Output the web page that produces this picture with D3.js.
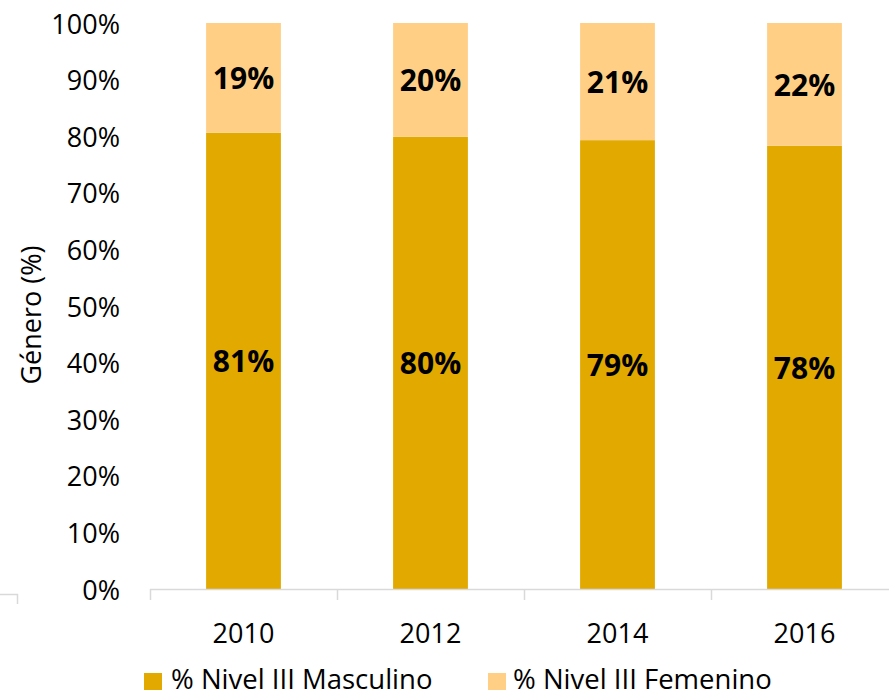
<!DOCTYPE html>
<html>
<head>
<meta charset="utf-8">
<script src="https://cdn.jsdelivr.net/npm/d3@7"></script>
<style>
  html, body { margin: 0; padding: 0; background: #fff; }
  svg { display: block; }
  text { font-family: "Open Sans", "Noto Sans", sans-serif; fill: #000; }
</style>
</head>
<body>
<svg id="chart" width="889" height="697"></svg>
<script>
const years = ["2010", "2012", "2014", "2016"];
const masculino = [80.6, 79.9, 79.3, 78.3];
const femenino = [19.4, 20.1, 20.7, 21.7];
const mascLabels = ["81%", "80%", "79%", "78%"];
const femLabels = ["19%", "20%", "21%", "22%"];
const yTicks = [0, 10, 20, 30, 40, 50, 60, 70, 80, 90, 100];
const seriesNames = ["% Nivel III Masculino", "% Nivel III Femenino"];
const colors = ["#E2A900", "#FFCF86"];

const svg = d3.select("#chart");
const plotLeft = 150, plotRight = 898, plotTop = 23, plotBottom = 589;

const x = d3.scaleBand().domain(years).range([plotLeft, plotRight]).paddingInner(0.6).paddingOuter(0.3);
const y = d3.scaleLinear().domain([0, 100]).range([plotBottom, plotTop]);
const step = x.step();

// bars
const g = svg.append("g");
years.forEach((yr, i) => {
  g.append("rect")
    .attr("x", x(yr)).attr("width", x.bandwidth())
    .attr("y", y(masculino[i])).attr("height", y(0) - y(masculino[i]))
    .attr("fill", colors[0]);
  g.append("rect")
    .attr("x", x(yr)).attr("width", x.bandwidth())
    .attr("y", y(masculino[i] + femenino[i])).attr("height", y(masculino[i]) - y(masculino[i] + femenino[i]))
    .attr("fill", colors[1]);
  g.append("text")
    .attr("x", x(yr) + x.bandwidth() / 2)
    .attr("y", y(masculino[i] / 2))
    .attr("text-anchor", "middle").attr("dominant-baseline", "central")
    .attr("font-size", 30).attr("font-weight", "bold")
    .text(mascLabels[i]);
  g.append("text")
    .attr("x", x(yr) + x.bandwidth() / 2)
    .attr("y", y(masculino[i] + femenino[i] / 2))
    .attr("text-anchor", "middle").attr("dominant-baseline", "central")
    .attr("font-size", 30).attr("font-weight", "bold")
    .text(femLabels[i]);
});

// x axis line and ticks
const axisColor = "#D9D9D9";
svg.append("line").attr("x1", plotLeft).attr("x2", 889).attr("y1", plotBottom + 0.5).attr("y2", plotBottom + 0.5)
  .attr("stroke", axisColor).attr("stroke-width", 1.5);
for (let i = 0; i <= years.length; i++) {
  const tx = Math.round(plotLeft + i * step) + 0.5;
  svg.append("line").attr("x1", tx).attr("x2", tx).attr("y1", plotBottom).attr("y2", plotBottom + 11)
    .attr("stroke", axisColor).attr("stroke-width", 1.5);
}
// small stray axis fragment at bottom-left
svg.append("path").attr("d", "M0,594.5 H17.5 V604").attr("fill", "none")
  .attr("stroke", axisColor).attr("stroke-width", 1.5);

// x labels
years.forEach(yr => {
  svg.append("text")
    .attr("x", x(yr) + x.bandwidth() / 2).attr("y", 632)
    .attr("text-anchor", "middle").attr("dominant-baseline", "central")
    .attr("font-size", 27).text(yr);
});

// y labels
yTicks.forEach(t => {
  svg.append("text")
    .attr("x", 120).attr("y", y(t))
    .attr("text-anchor", "end").attr("dominant-baseline", "central")
    .attr("font-size", 27).text(t + "%");
});

// y title
svg.append("text")
  .attr("transform", "translate(30,315) rotate(-90)")
  .attr("text-anchor", "middle").attr("dominant-baseline", "central")
  .attr("font-size", 27).text("Género (%)");

// legend
const legendX = [144, 488];
const legendTextX = [171, 513];
seriesNames.forEach((name, i) => {
  svg.append("rect").attr("x", legendX[i]).attr("y", 673).attr("width", 18).attr("height", 17)
    .attr("fill", colors[i]);
  svg.append("text").attr("x", legendTextX[i]).attr("y", 689)
    .attr("font-size", 27.5).text(name);
});
</script>
</body>
</html>
